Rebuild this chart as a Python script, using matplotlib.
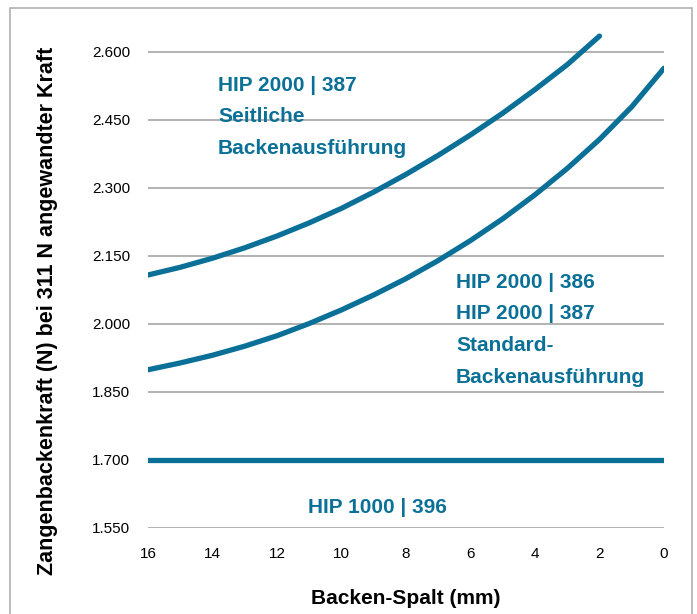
import matplotlib.pyplot as plt
from matplotlib.patches import Rectangle

# --------------------------------------- Data -------------------------------------
gap_seitlich = [16, 15, 14, 13, 12, 11, 10, 9, 8, 7, 6, 5, 4, 3, 2]
force_seitlich = [2.108, 2.125, 2.145, 2.168, 2.194, 2.223, 2.255, 2.291, 2.330,
                  2.372, 2.417, 2.465, 2.517, 2.572, 2.635]

gap_standard = [16, 15, 14, 13, 12, 11, 10, 9, 8, 7, 6, 5, 4, 3, 2, 1, 0]
force_standard = [1.899, 1.914, 1.931, 1.951, 1.974, 2.001, 2.031, 2.064, 2.100,
                  2.140, 2.184, 2.232, 2.285, 2.343, 2.407, 2.479, 2.564]

gap_1000 = [16, 0]
force_1000 = [1.700, 1.700]

x_ticks = [16, 14, 12, 10, 8, 6, 4, 2, 0]
y_ticks = [1.550, 1.700, 1.850, 2.000, 2.150, 2.300, 2.450, 2.600]
y_ticklabels = ['1.550', '1.700', '1.850', '2.000', '2.150', '2.300', '2.450', '2.600']

label_seitlich = 'HIP 2000 | 387\nSeitliche\nBackenausführung'
label_standard = 'HIP 2000 | 386\nHIP 2000 | 387\nStandard-\nBackenausführung'
label_1000 = 'HIP 1000 | 396'

# --------------------------------------- Plot -------------------------------------
plt.rcParams['font.family'] = ['Liberation Sans', 'DejaVu Sans']
BLUE = '#0a7097'
GRID = '#ababab'

fig = plt.figure(figsize=(6.97, 6.14), dpi=100)
ax = fig.add_axes([0.2123, 0.1401, 0.7403, 0.8122])

for x, y in [(gap_seitlich, force_seitlich), (gap_standard, force_standard),
             (gap_1000, force_1000)]:
    ax.plot(x, y, color=BLUE, lw=3.8, solid_capstyle='round', zorder=3)

ax.set_xlim(16, 0)
ax.set_ylim(1.550, 2.650)
ax.set_xticks(x_ticks)
ax.set_yticks(y_ticks)
ax.set_yticklabels(y_ticklabels)
ax.tick_params(axis='both', length=0, labelsize=11, colors='black')
ax.tick_params(axis='x', pad=14)
ax.tick_params(axis='y', pad=13)
ax.grid(axis='y', color=GRID, lw=1.3)
ax.set_axisbelow(True)
for s in ax.spines.values():
    s.set_visible(False)

ax.text(13.83, 2.457, label_seitlich, color=BLUE, fontsize=15, fontweight='bold',
        va='center', ha='left', linespacing=1.85)
ax.text(6.45, 1.987, label_standard, color=BLUE, fontsize=15, fontweight='bold',
        va='center', ha='left', linespacing=1.85)
ax.text(8.9, 1.596, label_1000, color=BLUE, fontsize=15, fontweight='bold',
        va='center', ha='center')

fig.text(0.5 * (148 + 664) / 697, 1 - 598 / 614, 'Backen-Spalt (mm)', fontsize=15,
         fontweight='bold', ha='center', va='center')
fig.text(48 / 697, 1 - 311 / 614, 'Zangenbackenkraft (N) bei 311 N angewandter Kraft',
         fontsize=15.5, fontweight='bold', rotation=90, ha='center', va='center')

fig.patches.append(Rectangle((10 / 697, -0.05), 682 / 697, 1.05 - 8 / 614,
                             transform=fig.transFigure, fill=False,
                             edgecolor='#b0b0b0', lw=1.2))

fig.savefig('out.png', dpi=100)
